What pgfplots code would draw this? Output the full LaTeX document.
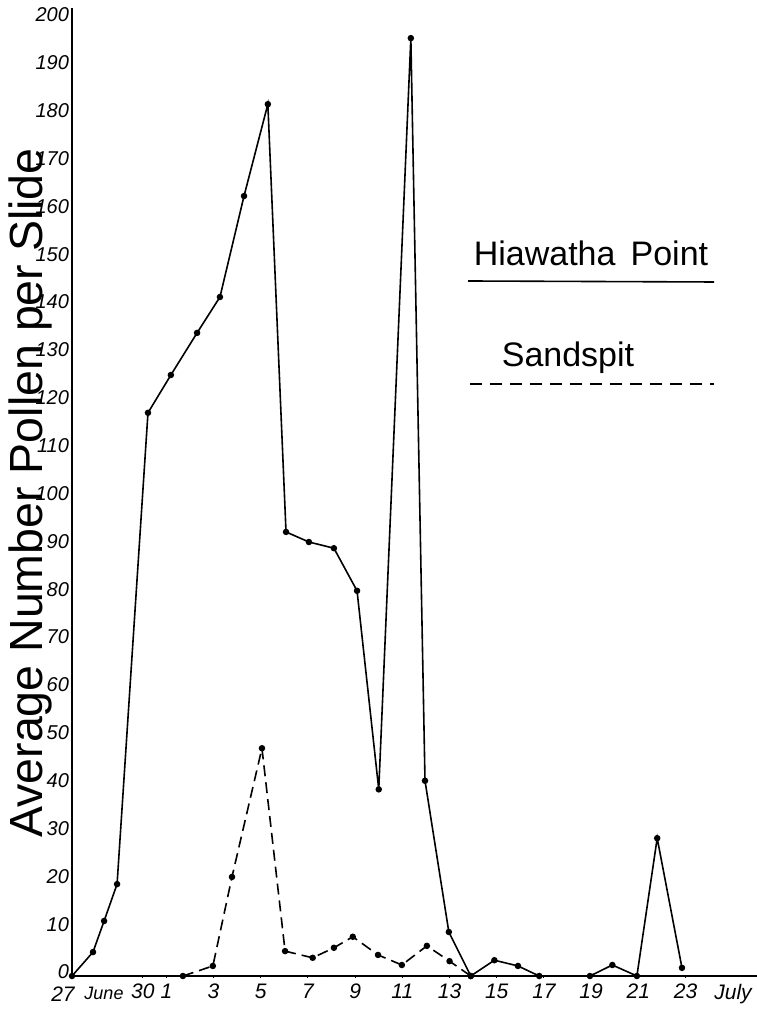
\documentclass[border=0pt]{standalone}
\usepackage{fontspec}
\setmainfont{Liberation Sans}
\usepackage{pgfplots}
\pgfplotsset{compat=1.18}
\begin{document}
\begin{tikzpicture}
\begin{axis}[
  at={(72pt,33pt)}, anchor=south west,
  scale only axis, width=685pt, height=968pt,
  xmin=0, xmax=29.03, ymin=0, ymax=202.3,
  clip=false,
  axis x line=bottom, axis y line=left,
  axis line style={line width=2.4pt,-},
  /pgf/number format/assume math mode=true,
  ytick={0,10,...,200},
  xtick={3,4,6,8,10,12,14,16,18,20,22,24,26},
  xticklabels={30,1,3,5,7,9,11,13,15,17,19,21,23},
  minor xtick={1,2,5,7,9,11,13,15,17,19,21,23,25,27},
  x tick style={black, line width=1pt},
  major tick length=3pt, minor tick length=2pt,
  y tick style={draw=none},
  yticklabel style={font=\itshape\fontsize{20}{20}\selectfont, xshift=2pt, yshift=4pt},
  xticklabel style={font=\itshape\fontsize{21}{21}\selectfont, yshift=-3pt},
]
\addplot[black, line width=1.6pt, mark=*, mark size=2.4pt] coordinates {
(0,0) (0.89,5) (1.36,11.5) (1.91,19.2) (3.22,117.7) (4.19,125.6) (5.3,134.4)
(6.27,141.9) (7.29,163) (8.3,182.2) (9.07,92.8) (10.04,90.7) (11.1,89.4)
(12.08,80.5) (13.0,39) (14.36,196) (14.96,40.8) (15.97,9.2) (16.9,0)
(17.9,3.3) (18.9,2.1) (19.8,0) (21.95,0) (22.9,2.3) (23.94,0) (24.8,28.8) (25.85,1.7)
};
\addplot[black, line width=1.6pt, dash pattern=on 11pt off 6pt, mark=*, mark size=2.4pt, mark options={solid}] coordinates {
(4.7,0) (5.97,2.1) (6.78,20.7) (8.05,47.6) (9.03,5.2) (10.2,3.8) (11.1,5.9)
(11.9,8.2) (12.97,4.4) (13.98,2.3) (15.04,6.3) (16.0,3.1) (16.9,0)
};
\end{axis}
\node[font=\itshape\fontsize{21}{21}\selectfont] at (63pt,15pt) {27};
\node[font=\itshape\fontsize{18}{18}\selectfont] at (104pt,16pt) {June};
\node[font=\itshape\fontsize{21}{21}\selectfont] at (733pt,15pt) {July};
\node[rotate=90, font=\fontsize{46.5}{46.5}\selectfont] at (30pt,516pt) {Average Number Pollen per Slide};
\node[font=\fontsize{34}{34}\selectfont] at (591pt,756pt) {Hiawatha\, Point};
\draw[line width=1.6pt] (468pt,728pt) -- (714pt,727pt);
\node[font=\fontsize{34}{34}\selectfont] at (568pt,651pt) {Sandspit};
\draw[line width=1.6pt, dash pattern=on 12pt off 8pt] (470pt,625pt) -- (714pt,625pt);
\pgfresetboundingbox
\useasboundingbox (0,0) rectangle (757pt,1009pt);
\end{tikzpicture}
\end{document}
